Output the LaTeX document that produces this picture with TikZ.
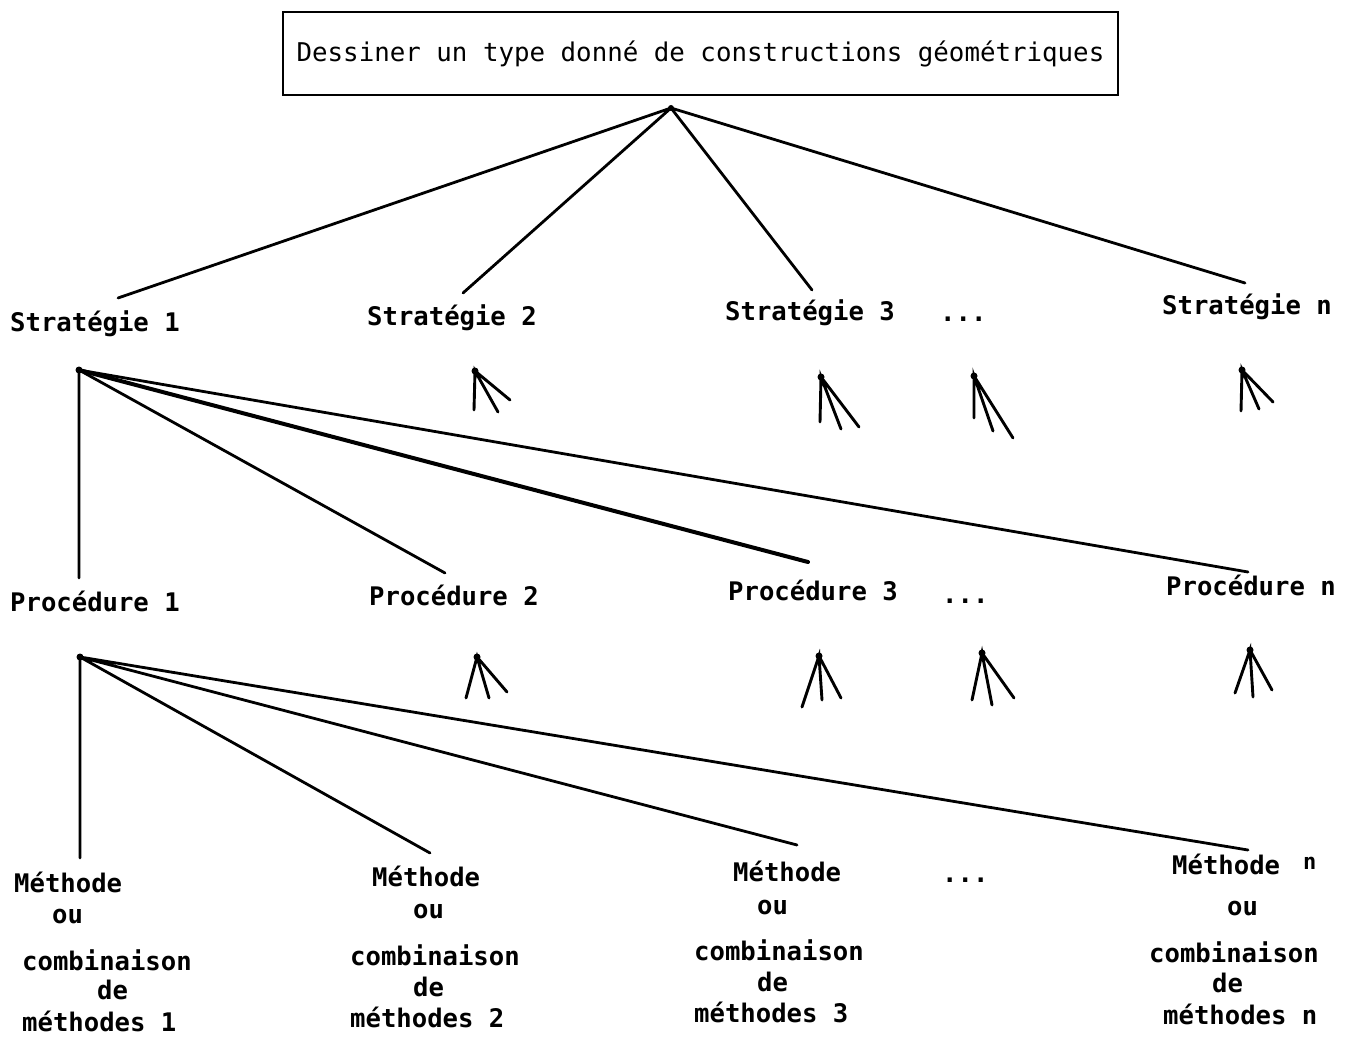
\documentclass[tikz,border=0pt]{standalone}
\usepackage{fontspec}
\setmonofont{DejaVu Sans Mono}
\colorlet{treeLine}{black}
\colorlet{boxLine}{black}

\begin{document}
\begin{tikzpicture}[x=1pt,y=-1pt,
  lbl/.style={font=\ttfamily\bfseries\fontsize{25.6}{30}\selectfont,inner sep=0pt,anchor=base west},
  branch/.style={treeLine,line width=2.8pt,line cap=round},
  fan/.style={treeLine,line width=2.9pt,line cap=round},
  knot/.style={treeLine}]
\useasboundingbox (0,0) rectangle (1356,1038);

\node[draw=boxLine,line width=2.6pt,minimum width=835pt,minimum height=83pt,inner sep=0pt,
  font=\ttfamily\fontsize{25.8}{30}\selectfont] (goal) at (700.5,53.5) {Dessiner un type donné de constructions géométriques};

\coordinate (top) at (671,108);
\coordinate (s1top) at (118,298);
\coordinate (s2top) at (463,293);
\coordinate (s3top) at (812,290);
\coordinate (sntop) at (1245,283);
\draw[branch] (s1top) -- (top) -- (sntop) (s2top) -- (top) -- (s3top);
\fill[knot] (top) circle (3);

\node[lbl] (strat1) at (10,331) {Stratégie 1};
\node[lbl] (strat2) at (367,325) {Stratégie 2};
\node[lbl] (strat3) at (725,320) {Stratégie 3};
\node[lbl] (sdots) at (940,321) {...};
\node[lbl] (stratn) at (1162,314) {Stratégie n};

\coordinate (s1) at (79,370);
\coordinate (p1top) at (79,578);
\coordinate (p2top) at (445,573);
\coordinate (p3top) at (808,562);
\coordinate (pntop) at (1248,572);
\draw[branch] (p1top) -- (s1) -- (p2top) (s1) -- (pntop);
\draw[branch,line width=4pt] (s1) -- (p3top);
\fill[knot] (s1) circle (3.5);

\foreach \ax/\ay/\ex/\ey/\fx/\fy/\gx/\gy in
  {475/371/474/410/498/412/510/400, 821/377/820/422/841/429/859/427,
   974/376/974/418/993/431/1013/438, 1242/370/1241/411/1259/409/1273/402,
   477/657/466/698/489/698/507/692, 819/656/802/707/822/700/841/698,
   982/653/972/700/992/705/1014/698, 1250/650/1235/693/1253/697/1272/690}
{
  \draw[fan] (\ex,\ey) -- (\ax,\ay) -- (\fx,\fy) (\ax,\ay) -- (\gx,\gy);
  \fill[knot] (\ax,\ay) circle (3.5);
}

\node[lbl] (proc1) at (10,611) {Procédure 1};
\node[lbl] (proc2) at (369,605) {Procédure 2};
\node[lbl] (proc3) at (728,600) {Procédure 3};
\node[lbl] (pdots) at (942,603) {...};
\node[lbl] (procn) at (1166,595) {Procédure n};

\coordinate (p1) at (80,657);
\coordinate (m1top) at (80,858);
\coordinate (m2top) at (430,853);
\coordinate (m3top) at (797,845);
\coordinate (mntop) at (1248,850);
\draw[branch] (m1top) -- (p1) -- (m2top) (m3top) -- (p1) -- (mntop);
\fill[knot] (p1) circle (3.5);

\node[lbl] (meth1) at (14,892) {Méthode};
\node[lbl] (ou1) at (52,923) {ou};
\node[lbl] (comb1) at (22,970) {combinaison};
\node[lbl] (de1) at (97,999) {de};
\node[lbl] (meths1) at (22,1031) {méthodes 1};

\node[lbl] (meth2) at (372,886) {Méthode};
\node[lbl] (ou2) at (413,918) {ou};
\node[lbl] (comb2) at (350,965) {combinaison};
\node[lbl] (de2) at (413,996) {de};
\node[lbl] (meths2) at (350,1027) {méthodes 2};

\node[lbl] (meth3) at (733,881) {Méthode};
\node[lbl] (ou3) at (757,914) {ou};
\node[lbl] (comb3) at (694,960) {combinaison};
\node[lbl] (de3) at (757,991) {de};
\node[lbl] (meths3) at (694,1022) {méthodes 3};

\node[lbl] (mdots) at (942,882) {...};

\node[lbl] (methn) at (1172,874) {Méthode};
\node[lbl,font=\ttfamily\bfseries\fontsize{22}{26}\selectfont] (methnn) at (1303,869) {n};
\node[lbl] (oun) at (1227,915) {ou};
\node[lbl] (combn) at (1149,962) {combinaison};
\node[lbl] (den) at (1212,992) {de};
\node[lbl] (methsn) at (1163,1024) {méthodes n};
\end{tikzpicture}
\end{document}
